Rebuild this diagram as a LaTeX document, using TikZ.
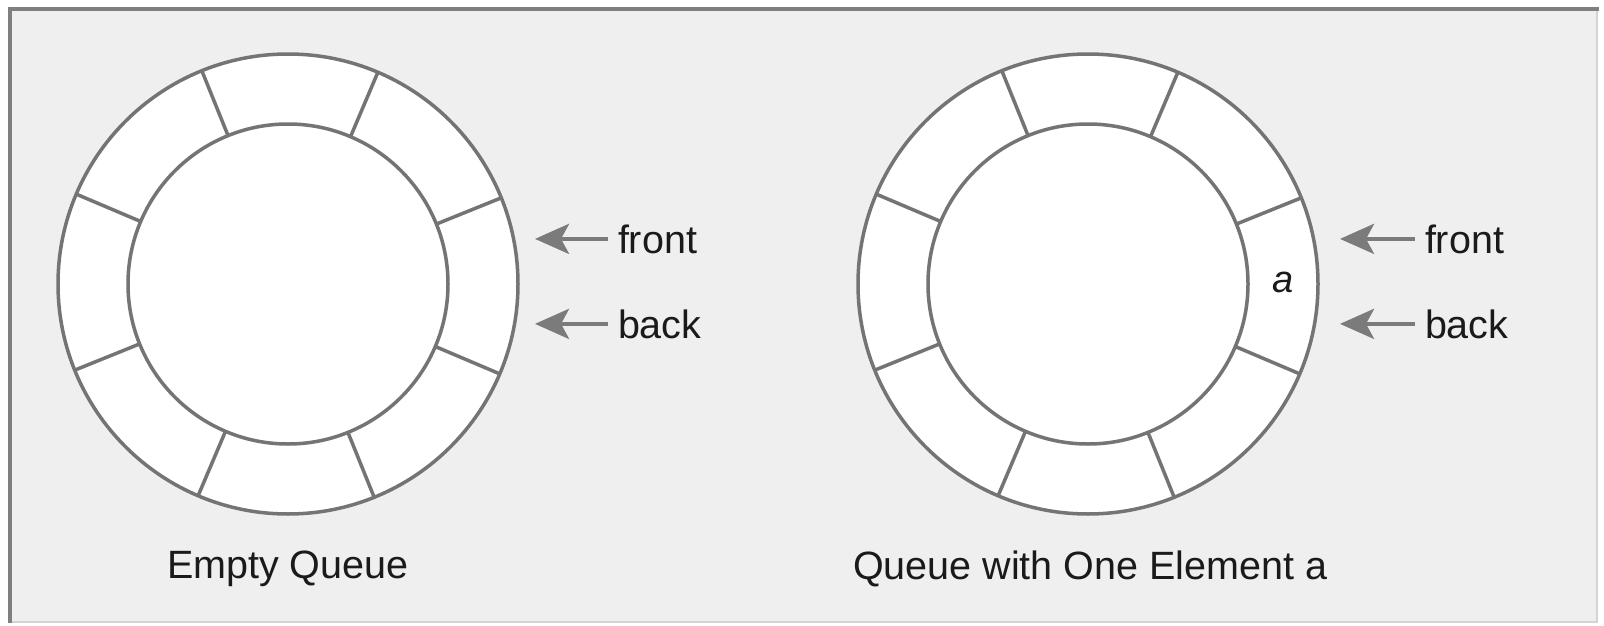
\documentclass[tikz,border=0pt]{standalone}
\usepackage{fontspec}
\setmainfont{Liberation Sans}
\usetikzlibrary{arrows.meta}
\definecolor{bgc}{HTML}{EFEFEF}
\definecolor{ringc}{HTML}{747474}
\definecolor{arrc}{HTML}{7B7B7B}
\definecolor{framedark}{HTML}{7F7F7F}
\definecolor{framelight}{HTML}{D4D4D4}
\definecolor{txtc}{HTML}{1A1A1A}
\tikzset{
  ring/.style={circle, draw=ringc, line width=3.5pt, fill=white, inner sep=0pt, outer sep=0pt},
  spoke/.style={draw=ringc, line width=3.5pt},
  arr/.style={draw=arrc, line width=4.5pt, -{Stealth[length=34pt,width=30pt,inset=8pt]}},
  lbl/.style={inner sep=0pt, outer sep=0pt, anchor=base west, text=txtc, font=\fontsize{39.5}{44}\selectfont},
}
\begin{document}
\begin{tikzpicture}[x=1pt,y=-1pt]
\useasboundingbox (0,0) rectangle (1604,626);
\fill[white] (0,0) rectangle (1604,626);
\fill[bgc] (9,8) rectangle (1598,623);
\draw[framelight, line width=2pt] (1597,8) -- (1597,622) -- (9,622);
\draw[framedark, line width=3.5pt] (10,623) -- (10,9) -- (1599,9);

% left queue
\node[ring, minimum size=460pt] (o1) at (288,284) {};
\node[ring, minimum size=320pt] (i1) at (288,284) {};
\foreach \a in {22.5,67.5,...,360} {
  \draw[spoke] (i1.\a) -- (o1.\a);
}
% right queue
\node[ring, minimum size=460pt] (o2) at (1088,284) {};
\node[ring, minimum size=320pt] (i2) at (1088,284) {};
\foreach \a in {22.5,67.5,...,360} {
  \draw[spoke] (i2.\a) -- (o2.\a);
}
\node[text=txtc, font=\fontsize{38}{42}\selectfont\itshape, inner sep=0pt] (ea) at (1283,282) {a};

% pointers left
\node[lbl] (f1) at (618,253) {front};
\node[lbl] (b1) at (618,338) {back};
\coordinate (tf1) at (535,238);
\coordinate (tb1) at (535,326);
\draw[arr] ([xshift=-10pt]f1.west) -- (tf1 |- f1.west);
\draw[arr] ([xshift=-10pt]b1.west) -- (tb1 |- b1.west);

% pointers right
\node[lbl] (f2) at (1425,253) {front};
\node[lbl] (b2) at (1425,338) {back};
\coordinate (tf2) at (1340,238);
\coordinate (tb2) at (1340,326);
\draw[arr] ([xshift=-10pt]f2.west) -- (tf2 |- f2.west);
\draw[arr] ([xshift=-10pt]b2.west) -- (tb2 |- b2.west);

% captions
\node[lbl] (c1) at (167,578) {Empty Queue};
\node[lbl] (c2) at (853,579) {Queue with One Element a};
\end{tikzpicture}
\end{document}
